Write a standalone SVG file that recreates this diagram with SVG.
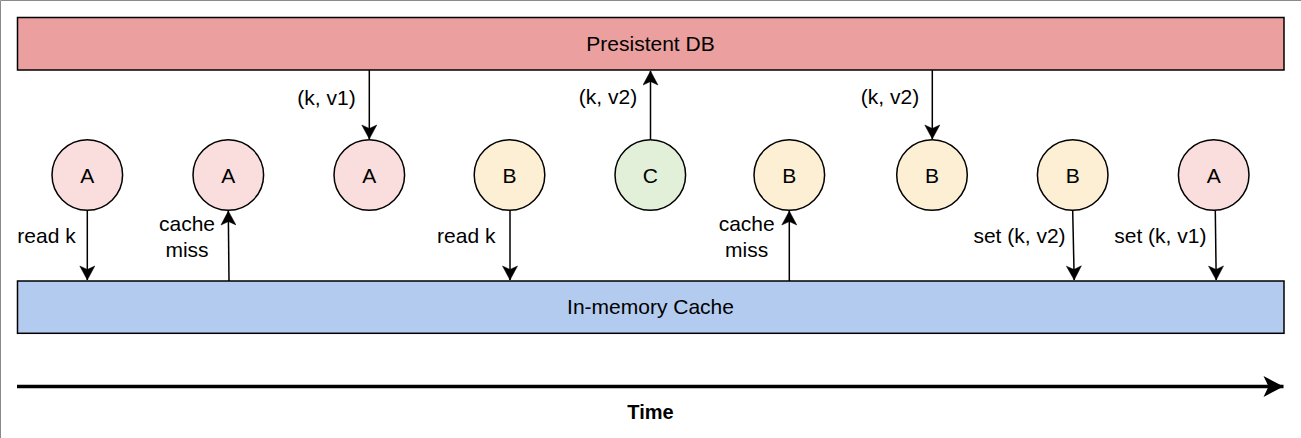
<svg xmlns="http://www.w3.org/2000/svg" width="1301" height="438" viewBox="0 0 1301 438">
<defs>
<style>
text{font-family:"Liberation Sans",Arial,sans-serif;font-size:21px;fill:#000;text-anchor:middle}
.bar{stroke:#000;stroke-width:1.5}
.node{stroke:#000;stroke-width:1.5}
.a{fill:#FADEDD}.b{fill:#FCEFD4}.c{fill:#E3F0D9}
.edge{stroke:#000;stroke-width:1.5;fill:none;marker-end:url(#arr)}
.lbl{fill:#000}
</style>
<marker id="arr" markerUnits="userSpaceOnUse" viewBox="-15 -8 16 16" refX="0" refY="0" markerWidth="16" markerHeight="16" orient="auto">
<path d="M0,0 L-14,-7.5 L-10.5,0 L-14,7.5 Z" fill="#000" stroke="#000" stroke-width="0.5"/>
</marker>
<marker id="bigarr" markerUnits="userSpaceOnUse" viewBox="-21 -11 22 22" refX="0" refY="0" markerWidth="22" markerHeight="22" orient="auto">
<path d="M0,0 L-20,-10.5 L-15,0 L-20,10.5 Z" fill="#000"/>
</marker>
</defs>
<rect x="0" y="0" width="1301" height="438" fill="#fff"/>
<path d="M0.5,438 V0.5 H1301" fill="none" stroke="#8a8a8a" stroke-width="1"/>

<g id="db">
<rect class="bar" x="17.5" y="17.5" width="1266.5" height="52.5" fill="#EB9F9E"/>
<text x="650.5" y="50.5">Presistent DB</text>
</g>
<g id="cache">
<rect class="bar" x="17.5" y="281" width="1266.5" height="52.3" fill="#B3CBEF"/>
<text x="650.5" y="314">In-memory Cache</text>
</g>

<g id="n1"><circle class="node a" cx="87.3" cy="175" r="35.3"/><text x="87.3" y="182.5">A</text></g>
<g id="n2"><circle class="node a" cx="228.3" cy="175" r="35.3"/><text x="228.3" y="182.5">A</text></g>
<g id="n3"><circle class="node a" cx="369.3" cy="175" r="35.3"/><text x="369.3" y="182.5">A</text></g>
<g id="n4"><circle class="node b" cx="509.5" cy="175" r="35.3"/><text x="509.5" y="182.5">B</text></g>
<g id="n5"><circle class="node c" cx="650.3" cy="175" r="35.3"/><text x="650.3" y="182.5">C</text></g>
<g id="n6"><circle class="node b" cx="789.3" cy="175" r="35.3"/><text x="789.3" y="182.5">B</text></g>
<g id="n7"><circle class="node b" cx="932" cy="175" r="35.3"/><text x="932" y="182.5">B</text></g>
<g id="n8"><circle class="node b" cx="1072.7" cy="175" r="35.3"/><text x="1072.7" y="182.5">B</text></g>
<g id="n9"><circle class="node a" cx="1213.7" cy="175" r="35.3"/><text x="1213.7" y="182.5">A</text></g>

<g id="connectors">
<path class="edge" d="M87.3,210.5 L87.3,280"/>
<path class="edge" d="M229,281 L228.3,211"/>
<path class="edge" d="M369.3,70 L369.3,139"/>
<path class="edge" d="M510,210.5 L510,280"/>
<path class="edge" d="M650.5,139.5 L650.5,71"/>
<path class="edge" d="M789.3,281 L789.3,211"/>
<path class="edge" d="M932.3,70 L932.3,139"/>
<path class="edge" d="M1072.7,210.5 L1074.2,280"/>
<path class="edge" d="M1215.3,210.5 L1216.2,280"/>
<path d="M17,386.5 L1283.5,386.5" stroke="#000" stroke-width="3.5" fill="none" marker-end="url(#bigarr)"/>
</g>

<g id="labels">
<text x="46.5" y="243">read k</text>
<text x="187" y="231">cache</text>
<text x="187" y="256.5">miss</text>
<text x="326.5" y="105">(k, v1)</text>
<text x="466.3" y="243">read k</text>
<text x="608" y="104">(k, v2)</text>
<text x="746.7" y="231">cache</text>
<text x="746.7" y="256.5">miss</text>
<text x="890" y="104">(k, v2)</text>
<text x="1019.5" y="243">set (k, v2)</text>
<text x="1160.3" y="243">set (k, v1)</text>
<text x="650.5" y="419" style="font-weight:bold;font-size:20px">Time</text>
</g>
</svg>
